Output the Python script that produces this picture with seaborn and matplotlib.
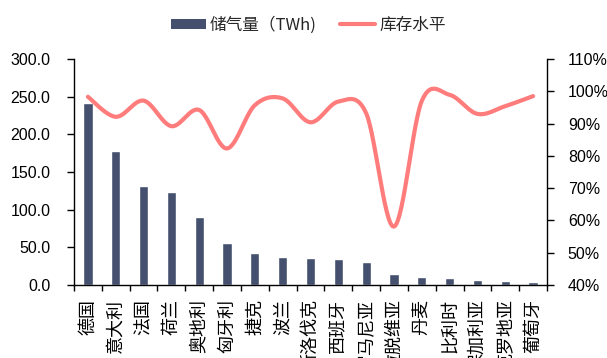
import numpy as np
import pandas as pd
import matplotlib
matplotlib.use("Agg")
import matplotlib.pyplot as plt
import seaborn as sns
from matplotlib.patches import Patch
from matplotlib.lines import Line2D
from matplotlib.ticker import FormatStrFormatter, FixedLocator
from matplotlib.font_manager import FontProperties

# --- data ---
countries = ["德国", "意大利", "法国", "荷兰", "奥地利", "匈牙利", "捷克", "波兰",
             "斯洛伐克", "西班牙", "罗马尼亚", "拉脱维亚", "丹麦", "比利时",
             "保加利亚", "克罗地亚", "葡萄牙"]
storage_twh = [241.0, 178.0, 131.0, 124.0, 90.0, 56.0, 43.0, 37.0,
               36.0, 34.0, 31.0, 14.5, 10.0, 8.8, 6.6, 5.3, 4.0]
fill_level = [98.3, 92.1, 97.1, 89.2, 94.2, 82.3, 95.7, 97.8,
              90.4, 96.8, 93.2, 58.1, 97.0, 98.9, 93.0, 95.4, 98.5]
left_ticks = [0, 50, 100, 150, 200, 250, 300]
right_ticks = [40, 50, 60, 70, 80, 90, 100, 110]

BAR = "#44506E"
LINE = "#FF7C7C"
CJK = "Noto Sans CJK SC"


def smooth_curve(xs, ys, steps=30):
    """Catmull-Rom spline through the points (as a smoothed line chart draws)."""
    p = np.column_stack([xs, ys]).astype(float)
    p = np.vstack([p[0], p, p[-1]])
    out = []
    t = np.linspace(0, 1, steps, endpoint=False)[:, None]
    for i in range(1, len(p) - 2):
        p0, p1, p2, p3 = p[i - 1], p[i], p[i + 1], p[i + 2]
        m1 = (p2 - p0) / 2
        m2 = (p3 - p1) / 2
        h00 = 2 * t**3 - 3 * t**2 + 1
        h10 = t**3 - 2 * t**2 + t
        h01 = -2 * t**3 + 3 * t**2
        h11 = t**3 - t**2
        out.append(h00 * p1 + h10 * m1 + h01 * p2 + h11 * m2)
    out.append(p[-2][None, :])
    c = np.vstack(out)
    return c[:, 0], c[:, 1]


sns.set_theme(style="ticks")
plt.rcParams["font.family"] = ["Liberation Sans", CJK, "DejaVu Sans"]
plt.rcParams["axes.edgecolor"] = "black"
plt.rcParams["axes.linewidth"] = 1.0

fig = plt.figure(figsize=(6.07, 3.58), dpi=100)
ax = fig.add_axes([74 / 607, 1 - 285 / 358, (547 - 74) / 607, (285 - 59) / 358])

df = pd.DataFrame({"国家": countries, "储气量": storage_twh})
sns.barplot(data=df, x="国家", y="储气量", color=BAR, saturation=1,
            width=0.33, ax=ax)

ax.set_xlim(-0.5, len(countries) - 0.5)
ax.set_ylim(0, 300)
ax.set_xlabel("")
ax.set_ylabel("")
ax.set_yticks(left_ticks)
ax.yaxis.set_major_formatter(FormatStrFormatter("%.1f"))
ax.tick_params(axis="y", direction="out", length=5, width=1, colors="black",
               labelsize=11.5, pad=12, left=True)
ax.set_xticks(range(len(countries)))
ax.set_xticklabels(countries, rotation=90, fontsize=13, family=CJK,
                   va="top", ha="center")
ax.tick_params(axis="x", which="major", length=0, pad=10, labelcolor="black")
ax.xaxis.set_minor_locator(FixedLocator(np.arange(-0.5, len(countries), 1.0)))
ax.tick_params(axis="x", which="minor", direction="out", length=4, width=1,
               color="black", bottom=True)
ax.spines["top"].set_visible(False)
ax.spines["right"].set_visible(False)

ax2 = ax.twinx()
sx, sy = smooth_curve(np.arange(len(countries)), fill_level)
ax2.plot(sx, sy, color=LINE, lw=3.0, solid_capstyle="round")
ax2.set_ylim(40, 110)
ax2.set_yticks(right_ticks)
ax2.yaxis.set_major_formatter(FormatStrFormatter("%d%%"))
ax2.tick_params(axis="y", direction="out", length=5, width=1, colors="black",
                labelsize=11.5, pad=10)
ax2.spines["top"].set_visible(False)
ax2.spines["left"].set_visible(False)
ax2.spines["bottom"].set_visible(False)
ax2.set_xlim(-0.5, len(countries) - 0.5)

handles = [Patch(facecolor=BAR, edgecolor="none", label="储气量（TWh)"),
           Line2D([], [], color=LINE, lw=3, label="库存水平")]
fig.legend(handles=handles, loc="center", bbox_to_anchor=(0.508, 0.93),
           ncol=2, frameon=False, prop=FontProperties(family=CJK, size=12),
           handlelength=2.1, handleheight=0.5, handletextpad=0.25,
           columnspacing=1.4)

fig.savefig("out.png", dpi=100)
